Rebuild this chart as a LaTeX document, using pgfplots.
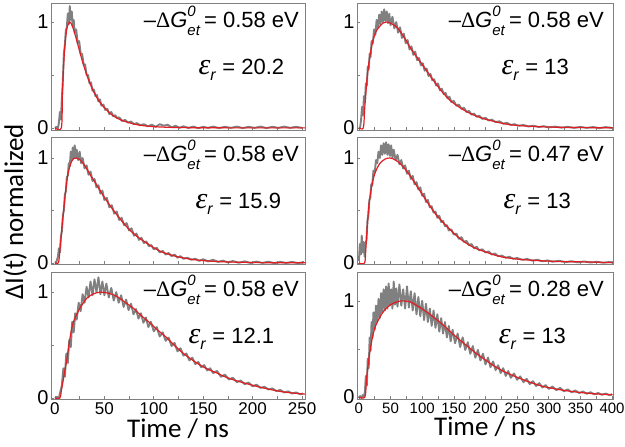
\documentclass[border=0pt]{standalone}
\usepackage{fontspec}
\usepackage{pgfplots}
\pgfplotsset{compat=1.18}
\setmainfont{Liberation Sans}
\newfontfamily\lblfont{Carlito}
\newfontfamily\serfont{Liberation Serif}
\definecolor{dgray}{RGB}{128,128,128}
\definecolor{fitred}{RGB}{225,30,35}
\newcommand{\dg}[1]{\fontsize{22}{24}\selectfont –{\serfont Δ}\textit{G}\rlap{\raisebox{0.5em}{\fontsize{15}{15}\selectfont\textit{0}}}\raisebox{-0.38em}{\fontsize{15}{15}\selectfont\textit{et}}\,= #1 eV}
\newcommand{\er}[1]{\fontsize{22}{24}\selectfont{\fontsize{30}{30}\selectfont\serfont\itshape ε}\raisebox{-0.3em}{\fontsize{16}{16}\selectfont\textit{r}} = #1}
\pgfplotsset{
  panel/.style={scale only axis, height=127pt, anchor=south west,
    axis line style={dgray, line width=0.8pt},
    tick style={dgray, line width=0.6pt},
    ytick={0,1}, minor ytick={0.5},
    tick align=inside, major tick length=3pt, minor tick length=3pt,
    xtick pos=bottom, ytick pos=left,
    yticklabel style={font=\fontsize{20}{20}\selectfont, xshift=1pt},
    /pgf/number format/assume math mode=true,
    xlabel style={font=\lblfont\fontsize{27}{27}\selectfont, yshift=3pt},
  },
  leftp/.style={panel, width=254pt, xmin=-4, xmax=253, xtick={0,50,...,250}, minor xtick={25,75,...,225},
    xticklabel style={font=\fontsize{17}{17}\selectfont}},
  rightp/.style={panel, width=256pt, xmin=-3, xmax=401.5, xtick={0,50,...,400}, minor xtick={25,75,...,375},
    xticklabel style={font=\fontsize{15}{15}\selectfont}},
  gr/.style={dgray, line width=1.9pt, line join=round},
  rd/.style={fitred, line width=1.2pt, smooth},
}
\begin{document}
\begin{tikzpicture}
\useasboundingbox (0,0) rectangle (625pt,447pt);
% ---------- top left ----------
\begin{axis}[leftp, at={(51pt,317pt)}, ymin=-0.02, ymax=1.18, xticklabels={}]
\addplot[gr] coordinates {(0,0.0)(1.5,0.01)(3,-0.005)(4,0.05)(5,0.15)(6,0.08)(7,0.28)(8,0.45)(9,0.70)(10,0.78)(11,0.92)(12,0.95)(13,1.08)(14,0.98)(15,1.15)(16,1.02)(17,1.10)(18,0.96)(19,1.02)(20,0.90)(21.5,0.93)(23,0.80)(24.5,0.82)(26,0.70)(27.5,0.70)(29,0.60)(30.5,0.60)(32,0.50)(33.5,0.50)(35,0.42)(36.5,0.43)(38,0.35)(39.5,0.36)(41,0.30)(42.5,0.31)(44,0.25)(45.5,0.27)(47,0.21)(49,0.22)(51,0.17)(53,0.18)(55,0.13)(57,0.15)(59,0.11)(61,0.12)(63,0.09)(65,0.10)(68,0.065)(71,0.075)(74,0.05)(77,0.06)(80,0.035)(83,0.045)(86,0.025)(90,0.035)(94,0.015)(98,0.03)(102,0.01)(106,0.035)(110,0.02)(114,0.03)(118,0.005)(122,0.02)(126,0.0)(130,0.015)(135,0.0)(140,0.012)(145,-0.003)(150,0.01)(155,0.0)(160,0.012)(166,-0.002)(172,0.01)(178,0.0)(184,0.012)(190,-0.002)(196,0.01)(202,0.0)(208,0.012)(214,-0.002)(220,0.01)(226,0.0)(232,0.012)(238,0.0)(244,0.01)(250,0.0)};
\addplot[rd] coordinates {(0,0)(6.5,0)(7.5,0.307)(8.5,0.537)(9.5,0.705)(10.5,0.824)(11.5,0.906)(12.5,0.958)(14.8,1.0)(16.5,0.985)(18.5,0.939)(21.5,0.844)(24.5,0.740)(28.5,0.607)(33.5,0.467)(39.5,0.337)(46.5,0.229)(56.5,0.132)(66.5,0.076)(81.5,0.033)(96.5,0.014)(116.5,0.005)(146.5,0.001)(200,0)(253,0)};
\node[anchor=base east] at (rel axis cs:0.99,0.81) {\dg{0.58}};
\node[anchor=base west] at (rel axis cs:0.567,0.44) {\er{20.2}};
\end{axis}
% ---------- middle left ----------
\begin{axis}[leftp, at={(51pt,183pt)}, ymin=-0.01, ymax=1.2, xticklabels={}]
\addplot[gr] coordinates {(0,0.0)(1.5,0.01)(3,0.06)(4,0.14)(5,0.10)(6,0.25)(7,0.30)(8,0.45)(9,0.50)(10,0.65)(11,0.68)(12,0.82)(13,0.83)(14,0.95)(15,0.92)(16,1.06)(17,0.98)(18,1.10)(19,1.00)(20,1.12)(21,1.00)(22,1.08)(23.5,0.98)(25,1.06)(26.5,0.95)(28,1.00)(30,0.90)(32,0.93)(34,0.84)(36,0.87)(38,0.78)(40,0.80)(42,0.72)(44,0.74)(46,0.66)(48,0.69)(50,0.60)(52.5,0.62)(55,0.53)(57.5,0.55)(60,0.47)(62.5,0.49)(65,0.41)(67.5,0.43)(70,0.36)(72.5,0.38)(75,0.31)(77.5,0.33)(80,0.26)(82.5,0.28)(85,0.22)(87.5,0.24)(90,0.19)(92.5,0.205)(95,0.16)(97.5,0.17)(100,0.13)(103,0.145)(106,0.10)(109,0.115)(112,0.08)(115,0.095)(118,0.065)(121,0.08)(124,0.05)(127,0.065)(130,0.04)(134,0.05)(138,0.03)(142,0.04)(146,0.02)(150,0.035)(155,0.015)(160,0.03)(165,0.01)(170,0.022)(175,0.005)(180,0.018)(186,0.002)(192,0.015)(198,0.0)(204,0.013)(210,0.0)(216,0.012)(222,-0.002)(228,0.01)(234,0.0)(240,0.01)(246,-0.002)(252,0.008)};
\addplot[rd] coordinates {(0,0)(3.5,0)(5,0.12)(7,0.33)(9,0.52)(11,0.70)(13,0.84)(15,0.92)(17,0.97)(19,0.995)(22,1.0)(25,0.985)(28,0.955)(32,0.90)(36,0.835)(40.5,0.77)(45,0.70)(50,0.625)(57,0.53)(65,0.43)(74,0.33)(82,0.26)(91,0.20)(100,0.145)(108,0.105)(116,0.08)(125,0.057)(140,0.032)(159,0.016)(180,0.008)(210,0.003)(253,0.001)};
\node[anchor=base east] at (rel axis cs:0.99,0.81) {\dg{0.58}};
\node[anchor=base west] at (rel axis cs:0.555,0.44) {\er{15.9}};
\end{axis}
% ---------- bottom left ----------
\begin{axis}[leftp, at={(51pt,48pt)}, ymin=-0.01, ymax=1.19, xlabel={Time / ns}]
\addplot[gr] coordinates {(0,0.0)(2,0.01)(4,0.0)(5.5,0.06)(7,0.12)(8.5,0.28)(10,0.20)(11.5,0.42)(13,0.33)(14.5,0.55)(16,0.48)(17.5,0.72)(19,0.62)(20.5,0.80)(22,0.74)(24,0.90)(26,0.82)(28,0.98)(30,0.90)(32,1.05)(34,0.95)(36,1.10)(38,0.97)(40,1.12)(42,1.00)(44,1.14)(46,0.98)(48,1.10)(50,0.97)(52,1.08)(54.5,0.95)(57,1.04)(59.5,0.92)(62,1.00)(64.5,0.90)(67,0.97)(69.5,0.86)(72,0.93)(74.5,0.83)(77,0.89)(79.5,0.79)(82,0.84)(84.5,0.75)(87,0.80)(89.5,0.71)(92,0.76)(94.5,0.67)(97,0.72)(100,0.63)(103,0.67)(106,0.58)(109,0.62)(112,0.54)(115,0.57)(118,0.49)(121,0.52)(124,0.44)(127,0.47)(130,0.40)(133,0.42)(136,0.355)(139,0.38)(142,0.32)(145,0.34)(148,0.29)(151,0.31)(154,0.26)(157,0.28)(160,0.235)(164,0.255)(168,0.20)(172,0.22)(176,0.175)(180,0.19)(184,0.15)(188,0.165)(192,0.13)(196,0.145)(200,0.11)(204,0.125)(208,0.095)(212,0.105)(216,0.08)(220,0.09)(224,0.065)(228,0.075)(232,0.052)(236,0.062)(240,0.042)(244,0.052)(248,0.035)(251,0.042)};
\addplot[rd] coordinates {(0,0)(5,0)(6.5,0.07)(8.4,0.17)(10,0.26)(11.8,0.35)(14,0.49)(17,0.66)(20,0.75)(22,0.79)(26,0.86)(32,0.94)(38,0.98)(45.6,1.0)(54,0.99)(62.5,0.96)(70,0.91)(79,0.85)(87,0.78)(96,0.71)(104,0.64)(113,0.57)(121,0.495)(130,0.42)(138,0.365)(147,0.31)(155,0.27)(164,0.235)(172,0.20)(181,0.17)(190,0.145)(198,0.125)(206,0.105)(214,0.088)(222,0.072)(231,0.057)(240,0.047)(250,0.038)(253,0.036)};
\node[anchor=base east] at (rel axis cs:0.99,0.81) {\dg{0.58}};
\node[anchor=base west] at (rel axis cs:0.528,0.44) {\er{12.1}};
\end{axis}
% ---------- top right ----------
\begin{axis}[rightp, at={(357pt,317pt)}, ymin=-0.02, ymax=1.18, xticklabels={}]
\addplot[gr] coordinates {(0,0.0)(2,0.005)(3.5,0.08)(5,0.20)(6.5,0.12)(8,0.30)(9.5,0.24)(11,0.42)(12.5,0.40)(14,0.58)(15.5,0.55)(17,0.70)(18.5,0.67)(20,0.82)(22,0.80)(24,0.93)(26,0.88)(28,1.02)(30,0.95)(32,1.07)(34,0.98)(36,1.10)(38,1.00)(40,1.12)(42,1.01)(44,1.10)(46,0.99)(48,1.08)(50,0.97)(53,1.05)(56,0.94)(59,1.00)(62,0.90)(65,0.95)(68,0.85)(71,0.89)(74,0.80)(77,0.83)(80,0.74)(83,0.77)(86,0.69)(89,0.72)(92,0.64)(95,0.66)(98,0.59)(101,0.61)(104,0.54)(107,0.56)(110,0.49)(113,0.51)(116,0.45)(119,0.46)(122,0.40)(125,0.42)(128,0.355)(131,0.37)(134,0.32)(137,0.33)(140,0.28)(143,0.295)(146,0.245)(150,0.255)(154,0.21)(158,0.22)(162,0.18)(166,0.19)(170,0.15)(174,0.16)(178,0.125)(182,0.135)(186,0.105)(190,0.115)(195,0.085)(200,0.095)(205,0.07)(210,0.078)(216,0.055)(222,0.062)(228,0.04)(234,0.047)(240,0.028)(246,0.035)(252,0.02)(260,0.027)(268,0.013)(276,0.02)(284,0.008)(292,0.016)(300,0.004)(310,0.012)(320,0.002)(330,0.01)(340,0.0)(350,0.009)(360,0.0)(370,0.008)(380,-0.002)(390,0.007)(400,0.0)};
\addplot[rd] coordinates {(0,0)(7,0)(9,0.17)(11,0.33)(13,0.47)(15,0.58)(18,0.70)(22,0.82)(27,0.91)(33,0.96)(38,0.99)(43,1.0)(50,0.99)(60,0.95)(70,0.87)(80,0.77)(90,0.68)(100,0.60)(107,0.54)(120,0.43)(133,0.33)(146,0.25)(160,0.19)(173,0.145)(186,0.11)(200,0.082)(212,0.063)(225,0.045)(239,0.03)(260,0.019)(291,0.01)(330,0.004)(370,0.002)(401,0.001)};
\node[anchor=base east] at (rel axis cs:0.978,0.81) {\dg{0.58}};
\node[anchor=base west] at (rel axis cs:0.551,0.44) {\er{13}};
\end{axis}
% ---------- middle right ----------
\begin{axis}[rightp, at={(357pt,183pt)}, ymin=-0.01, ymax=1.2, xticklabels={}]
\addplot[gr] coordinates {(0,0.02)(1.5,0.18)(3,0.08)(4.5,0.26)(6,0.10)(7.5,0.20)(9,0.06)(10.5,0.18)(12,0.22)(13.5,0.40)(15,0.45)(16.5,0.60)(18,0.62)(19.5,0.75)(21,0.74)(23,0.88)(25,0.86)(27,0.98)(29,0.95)(31,1.06)(33,1.00)(35,1.12)(37,1.03)(39,1.14)(41,1.04)(43,1.15)(45,1.03)(47,1.13)(49,1.02)(51,1.12)(53,1.00)(55,1.08)(58,0.98)(61,1.03)(64,0.94)(67,0.98)(70,0.90)(73,0.93)(76,0.85)(79,0.88)(82,0.80)(85,0.83)(88,0.75)(91,0.77)(94,0.70)(97,0.72)(100,0.64)(103,0.66)(106,0.58)(109,0.60)(112,0.53)(115,0.54)(118,0.48)(121,0.49)(124,0.43)(127,0.45)(130,0.39)(133,0.40)(136,0.35)(139,0.36)(142,0.31)(146,0.32)(150,0.27)(154,0.28)(158,0.23)(162,0.245)(166,0.20)(170,0.21)(174,0.17)(178,0.18)(182,0.14)(186,0.155)(190,0.12)(195,0.13)(200,0.10)(205,0.11)(210,0.08)(215,0.09)(220,0.065)(226,0.07)(232,0.05)(238,0.058)(244,0.04)(250,0.047)(258,0.03)(266,0.037)(274,0.022)(282,0.03)(290,0.016)(298,0.024)(306,0.012)(316,0.02)(326,0.008)(336,0.016)(346,0.006)(356,0.014)(366,0.004)(376,0.011)(386,0.002)(396,0.009)(400,0.004)};
\addplot[rd] coordinates {(0,0)(9,0)(11,0.14)(13,0.33)(15.3,0.52)(18,0.65)(20.6,0.74)(24,0.83)(28.5,0.90)(34,0.955)(41.6,0.99)(49.5,1.0)(58,0.98)(68,0.93)(81,0.83)(94,0.71)(107,0.59)(120.7,0.47)(134,0.38)(147,0.30)(160,0.23)(173,0.175)(186,0.135)(200,0.105)(213,0.078)(226,0.057)(239,0.045)(252,0.035)(278,0.024)(305,0.016)(330,0.012)(358,0.01)(380,0.006)(401,0.004)};
\node[anchor=base east] at (rel axis cs:0.978,0.81) {\dg{0.47}};
\node[anchor=base west] at (rel axis cs:0.559,0.44) {\er{13}};
\end{axis}
% ---------- bottom right ----------
\begin{axis}[rightp, at={(357pt,48pt)}, ymin=-0.02, ymax=1.30, xlabel={Time / ns}]
\addplot[gr] coordinates {(0,0.0)(2,0.01)(4,-0.01)(6,0.02)(8,0.0)(9.5,0.06)(11,0.22)(12.5,0.12)(14,0.40)(15.5,0.30)(17,0.62)(18.5,0.48)(20,0.78)(21.5,0.62)(23,0.88)(25,0.70)(27,0.95)(29,0.78)(31,1.02)(33,0.82)(35,1.08)(37,0.88)(39,1.12)(41,0.90)(43,1.15)(45,0.92)(47,1.18)(49,0.95)(51,1.12)(53,0.92)(55,1.20)(57,0.96)(59,1.13)(61,0.94)(64,1.17)(67,0.95)(70,1.12)(73,0.92)(76,1.15)(79,0.93)(82,1.10)(85,0.90)(88,1.08)(91,0.86)(94,1.04)(97,0.84)(100,1.00)(103,0.80)(106,0.97)(109,0.78)(112,0.92)(115,0.74)(118,0.90)(121,0.72)(124,0.86)(127,0.68)(130,0.82)(133,0.66)(136,0.78)(139,0.62)(142,0.74)(145,0.58)(148,0.70)(152,0.56)(156,0.66)(160,0.52)(164,0.62)(168,0.49)(172,0.57)(176,0.45)(180,0.53)(184,0.41)(188,0.49)(192,0.38)(196,0.45)(200,0.34)(204,0.41)(208,0.31)(212,0.37)(216,0.28)(220,0.33)(224,0.25)(228,0.30)(232,0.22)(236,0.27)(240,0.20)(245,0.245)(250,0.18)(255,0.215)(260,0.155)(265,0.19)(270,0.135)(275,0.165)(280,0.115)(285,0.145)(290,0.10)(295,0.125)(300,0.085)(306,0.11)(312,0.072)(318,0.095)(324,0.06)(330,0.08)(336,0.05)(342,0.068)(348,0.042)(354,0.058)(360,0.035)(366,0.05)(372,0.028)(378,0.042)(384,0.024)(390,0.036)(396,0.02)(400,0.03)};
\addplot[rd] coordinates {(0,0)(9.5,0)(12,0.18)(14.8,0.35)(18,0.50)(22.7,0.66)(27,0.75)(33,0.83)(40,0.9)(49,0.955)(58,0.985)(67.5,1.0)(80.6,0.99)(93,0.945)(107,0.885)(120,0.82)(133,0.75)(146,0.67)(160,0.59)(173,0.52)(186,0.45)(199,0.39)(212,0.33)(225,0.28)(239,0.236)(252,0.2)(265,0.167)(278,0.137)(291,0.11)(305,0.092)(318,0.076)(331,0.063)(344,0.052)(357,0.043)(370,0.035)(385,0.029)(401,0.024)};
\node[anchor=base east] at (rel axis cs:0.978,0.81) {\dg{0.28}};
\node[anchor=base west] at (rel axis cs:0.54,0.44) {\er{13}};
\end{axis}
\node[rotate=90, font=\lblfont\fontsize{27}{27}\selectfont] at (15pt,235pt) {ΔI(t) normalized};
\end{tikzpicture}
\end{document}
